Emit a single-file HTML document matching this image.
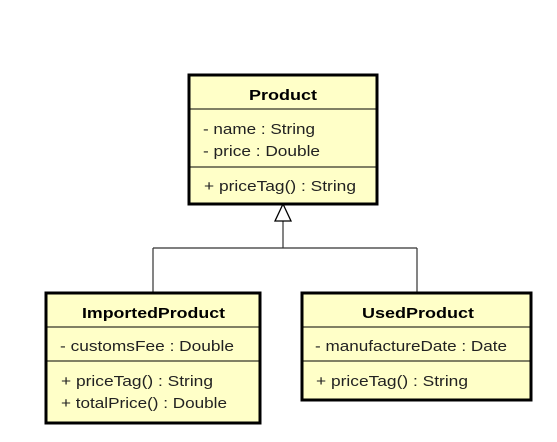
<!DOCTYPE html>
<html><head><style>body{margin:0;background:#fff}svg{display:block}</style></head><body>
<svg width="557" height="442" xmlns="http://www.w3.org/2000/svg" font-family="Liberation Sans, sans-serif" font-size="15" fill="#000">
<g stroke="#333" stroke-width="1.2" fill="none">
<line x1="283" y1="221" x2="283" y2="248"/>
<line x1="153" y1="248" x2="417" y2="248"/>
<line x1="153" y1="248" x2="153" y2="292"/>
<line x1="417" y1="248" x2="417" y2="292"/>
</g>
<polygon points="283,204 275,221 291,221" fill="#fff" stroke="#000" stroke-width="1.3"/>
<g fill="#ffffc8" stroke="#000">
<rect x="189" y="75" width="188" height="129" stroke-width="3"/>
<rect x="46" y="293" width="214" height="130" stroke-width="3"/>
<rect x="302" y="293" width="229" height="107" stroke-width="3"/>
</g>
<g stroke="#000" stroke-width="1">
<line x1="189" y1="109" x2="377" y2="109"/><line x1="189" y1="167" x2="377" y2="167"/>
<line x1="46" y1="327" x2="260" y2="327"/><line x1="46" y1="361" x2="260" y2="361"/>
<line x1="302" y1="327" x2="531" y2="327"/><line x1="302" y1="361" x2="531" y2="361"/>
</g>
<g font-weight="bold" lengthAdjust="spacingAndGlyphs">
<text x="249" y="100" textLength="68" lengthAdjust="spacingAndGlyphs">Product</text>
<text x="82" y="318" textLength="143" lengthAdjust="spacingAndGlyphs">ImportedProduct</text>
<text x="362" y="318" textLength="112" lengthAdjust="spacingAndGlyphs">UsedProduct</text>
</g>
<g fill="#222">
<text x="203" y="134" textLength="112" lengthAdjust="spacingAndGlyphs">- name : String</text>
<text x="203" y="156" textLength="117" lengthAdjust="spacingAndGlyphs">- price : Double</text>
<text x="204" y="191" textLength="152" lengthAdjust="spacingAndGlyphs">+ priceTag() : String</text>
<text x="60" y="351" textLength="174" lengthAdjust="spacingAndGlyphs">- customsFee : Double</text>
<text x="61" y="386" textLength="152" lengthAdjust="spacingAndGlyphs">+ priceTag() : String</text>
<text x="61" y="408" textLength="166" lengthAdjust="spacingAndGlyphs">+ totalPrice() : Double</text>
<text x="315" y="351" textLength="192" lengthAdjust="spacingAndGlyphs">- manufactureDate : Date</text>
<text x="316" y="386" textLength="152" lengthAdjust="spacingAndGlyphs">+ priceTag() : String</text>
</g>
</svg>
</body></html>
